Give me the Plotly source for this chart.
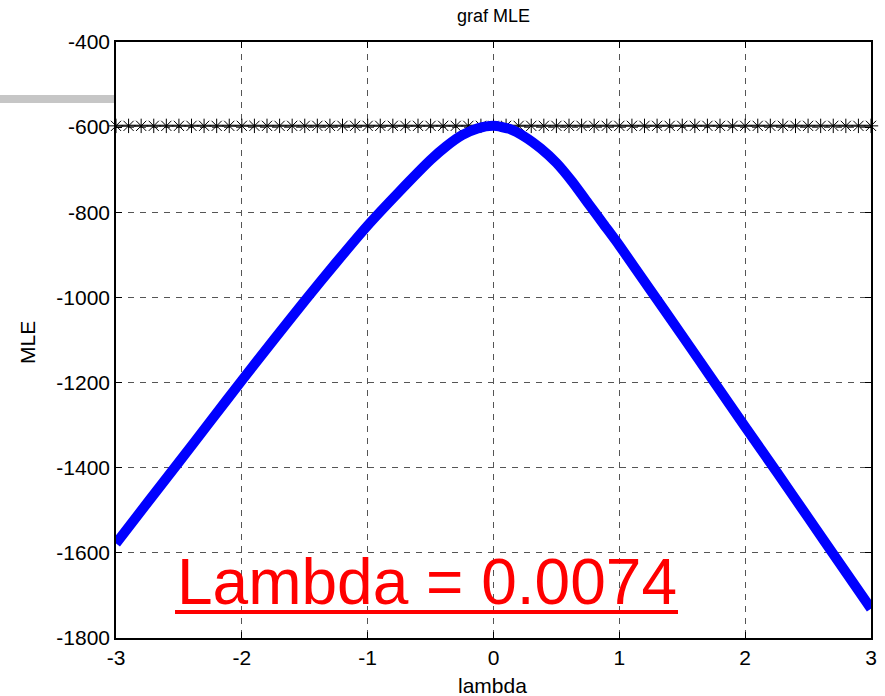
import plotly.graph_objects as go

# MLE curve
lam = [-3.0, -2.75, -2.5, -2.25, -2.0, -1.75, -1.5, -1.25, -1.0, -0.75, -0.5, -0.375, -0.25,
       -0.125, 0.0, 0.125, 0.25, 0.375, 0.5, 0.625, 0.75, 0.875, 1.0, 1.25, 1.5, 1.75, 2.0,
       2.25, 2.5, 2.75, 3.0]
mle = [-1578, -1482, -1387, -1291, -1195, -1101, -1008, -918, -831, -752, -677, -645, -619,
       -603, -597, -604, -623, -650, -684, -728, -778, -828, -878, -984, -1090, -1197, -1304,
       -1410, -1517, -1624, -1731]

# starred max line
star_x = [-3.0, -2.9, -2.8, -2.7, -2.6, -2.5, -2.4, -2.3, -2.2, -2.1, -2.0, -1.9, -1.8, -1.7,
          -1.6, -1.5, -1.4, -1.3, -1.2, -1.1, -1.0, -0.9, -0.8, -0.7, -0.6, -0.5, -0.4, -0.3,
          -0.2, -0.1, 0.0, 0.1, 0.2, 0.3, 0.4, 0.5, 0.6, 0.7, 0.8, 0.9, 1.0, 1.1, 1.2, 1.3,
          1.4, 1.5, 1.6, 1.7, 1.8, 1.9, 2.0, 2.1, 2.2, 2.3, 2.4, 2.5, 2.6, 2.7, 2.8, 2.9, 3.0]
star_y = [-597] * len(star_x)

x_ticks = [-3, -2, -1, 0, 1, 2, 3]
y_ticks = [-1800, -1600, -1400, -1200, -1000, -800, -600, -400]

FONT = "Liberation Sans, Arial, sans-serif"

fig = go.Figure()
fig.add_trace(go.Scatter(
    x=star_x, y=star_y, mode="lines+markers",
    line=dict(color="#707070", width=2.5),
    marker=dict(symbol="asterisk-open", size=12, color="black", line=dict(color="black", width=1)),
    cliponaxis=False, showlegend=False))
fig.add_trace(go.Scatter(
    x=lam, y=mle, mode="lines",
    line=dict(color="#0000ff", width=10, shape="spline", smoothing=0.6),
    cliponaxis=False, showlegend=False))

L, R, T, B = 116, 14, 42, 58
W, H = 885, 696
pw = W - L - R
ph = H - T - B


def px_x(p):
    return (p - L) / pw


def px_y(p):
    return 1 - (p - T) / ph


axis_common = dict(showgrid=True, gridcolor="#555555", griddash="6px,6px", gridwidth=1,
                   showline=True, linecolor="black", linewidth=1.5, mirror="ticks",
                   ticks="inside", ticklen=6, tickcolor="black", zeroline=False,
                   automargin=False, tickfont=dict(size=21))

fig.update_layout(
    width=W, height=H,
    margin=dict(l=L, r=R, t=T, b=B, pad=0),
    paper_bgcolor="white", plot_bgcolor="white",
    font=dict(family=FONT, color="black", size=21),
    title=dict(text="graf MLE", x=(L + pw / 2) / W, xanchor="center", y=1 - 16 / H, yanchor="middle",
               font=dict(size=18, family=FONT, color="black")),
    xaxis=dict(range=[-3, 3], tickvals=x_ticks, ticktext=[str(v) for v in x_ticks], **axis_common),
    yaxis=dict(range=[-1800, -400], tickvals=y_ticks, ticktext=[str(v) for v in y_ticks], **axis_common),
    shapes=[
        dict(type="rect", xref="paper", yref="paper",
             x0=px_x(0), x1=0, y0=px_y(95), y1=px_y(103),
             fillcolor="#c6c6c6", line=dict(width=0), layer="below"),
        dict(type="line", xref="paper", yref="paper",
             x0=px_x(175), x1=px_x(678), y0=px_y(612), y1=px_y(612),
             line=dict(color="#ff0000", width=4)),
    ],
    annotations=[
        dict(text="Lambda = 0.0074", x=px_x(175), y=px_y(582), xref="paper", yref="paper",
             xanchor="left", yanchor="middle", showarrow=False,
             font=dict(size=64, color="#ff0000", family=FONT)),
        dict(text="lambda", x=px_x(492), y=px_y(685), xref="paper", yref="paper",
             xanchor="center", yanchor="middle", showarrow=False,
             font=dict(size=21, family=FONT, color="black")),
        dict(text="MLE", x=px_x(27), y=px_y(343), xref="paper", yref="paper",
             xanchor="center", yanchor="middle", showarrow=False, textangle=-90,
             font=dict(size=21, family=FONT, color="black")),
    ],
)

fig.write_html("out.html")
